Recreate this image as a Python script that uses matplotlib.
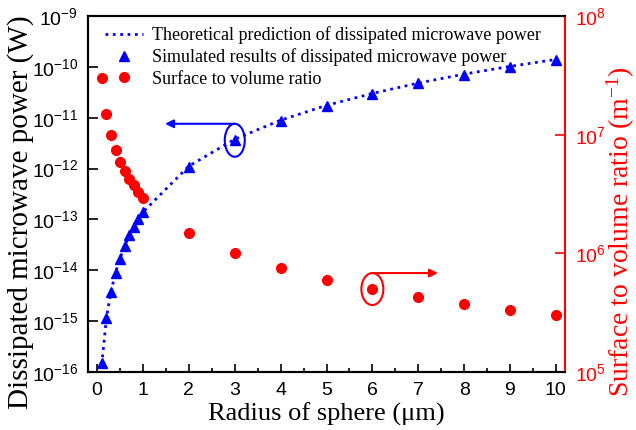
import matplotlib
matplotlib.use("Agg")
import matplotlib.pyplot as plt
from matplotlib.patches import Ellipse
from matplotlib.ticker import FuncFormatter, NullLocator
import numpy as np

radius = [0.1, 0.2, 0.3, 0.4, 0.5, 0.6, 0.7, 0.8, 0.9, 1.0, 2, 3, 4, 5, 6, 7, 8, 9, 10]
theory_power = [1.4e-16, 1.12e-15, 3.8e-15, 9.0e-15, 1.75e-14, 3.0e-14, 4.8e-14, 7.2e-14,
                1.02e-13, 1.4e-13, 1.12e-12, 3.78e-12, 8.96e-12, 1.75e-11, 3.0e-11,
                4.8e-11, 7.2e-11, 1.02e-10, 1.4e-10]
sim_power = [1.5e-16, 1.15e-15, 3.7e-15, 8.9e-15, 1.66e-14, 3.0e-14, 4.9e-14, 7.0e-14,
             1.0e-13, 1.4e-13, 1.07e-12, 3.6e-12, 8.5e-12, 1.7e-11, 2.9e-11,
             4.8e-11, 6.8e-11, 1.0e-10, 1.35e-10]
sv_ratio = [3.0e7, 1.49e7, 1.0e7, 7.4e6, 5.9e6, 4.9e6, 4.2e6, 3.76e6, 3.3e6, 2.9e6,
            1.48e6, 1.0e6, 7.5e5, 6.0e5, 5.0e5, 4.3e5, 3.75e5, 3.33e5, 3.0e5]
x_ticks = [0, 1, 2, 3, 4, 5, 6, 7, 8, 9, 10]
left_exponents = [-16, -15, -14, -13, -12, -11, -10, -9]
right_exponents = [5, 6, 7, 8]

BLUE = "#0000FF"
RED = "#FF0000"
serif = "Liberation Serif"
sans = "Liberation Sans"

plt.rcParams["mathtext.fontset"] = "custom"
plt.rcParams["mathtext.rm"] = serif
plt.rcParams["mathtext.sf"] = sans
plt.rcParams["mathtext.it"] = serif + ":italic"
plt.rcParams["mathtext.bf"] = serif + ":bold"

fig = plt.figure(figsize=(6.36, 4.30), dpi=100)
ax = fig.add_axes([88/636, 1 - 372/430, (565-88)/636, (372-16)/430])
ax2 = ax.twinx()

l1, = ax.plot(radius, theory_power, linestyle=":", color=BLUE, lw=2,
              label="Theoretical prediction of dissipated microwave power")
l2, = ax.plot(radius, sim_power, linestyle="none", marker="^", color=BLUE, ms=7,
              label="Simulated results of dissipated microwave power")
l3, = ax2.plot(radius, sv_ratio, linestyle="none", marker="o", color=RED, ms=7,
               label="Surface to volume ratio")

ax.set_yscale("log")
ax2.set_yscale("log")
ax.set_xlim(-0.2, 10.2)
ax.set_ylim(1e-16, 1e-9)
ax2.set_ylim(1e5, 1e8)
ax.set_xticks(x_ticks)
ax.set_xticks(np.arange(0.5, 10, 1.0), minor=True)
ax.set_yticks([10.0**k for k in left_exponents])
ax.yaxis.set_minor_locator(NullLocator())
ax2.set_yticks([10.0**k for k in right_exponents])
ax2.yaxis.set_minor_locator(NullLocator())

def pow_fmt(v, pos):
    k = int(round(np.log10(v)))
    return r"$\mathsf{10^{%d}}$" % k

ax.yaxis.set_major_formatter(FuncFormatter(pow_fmt))
ax2.yaxis.set_major_formatter(FuncFormatter(pow_fmt))

ax.tick_params(axis="x", which="major", direction="in", length=6, width=1.2,
               labelsize=14, pad=7)
ax.tick_params(axis="x", which="minor", direction="in", length=3, width=1.2)
ax.tick_params(axis="y", direction="in", length=7, width=1.2, labelsize=14, pad=7)
ax2.tick_params(axis="y", direction="in", length=7, width=1.2, labelsize=14,
                colors=RED, pad=7)
for lab in ax.get_xticklabels():
    lab.set_fontfamily(sans)

for s in ["left", "bottom", "top"]:
    ax.spines[s].set_linewidth(1.5)
    ax2.spines[s].set_linewidth(1.5)
ax2.spines["right"].set_color(RED)
ax2.spines["right"].set_linewidth(1.5)
ax.spines["right"].set_visible(False)

ax.set_xlabel("Radius of sphere (\u03bcm)", fontsize=19, family=serif, labelpad=3)
fig.text(21/636, 1 - 212/430, "Dissipated microwave power (W)", fontsize=21,
         family=serif, rotation=90, ha="center", va="center")
fig.text(621/636, 1 - 232/430, "Surface to volume ratio (m$^{-1}$)", fontsize=20,
         family=serif, rotation=90, ha="center", va="center", color=RED)

leg = ax.legend(handles=[l1, l2, l3], loc="upper left", frameon=False,
                prop={"family": serif, "size": 13}, numpoints=1,
                handlelength=2.1, handletextpad=0.5, borderaxespad=0.55,
                labelspacing=0.25, bbox_to_anchor=(0.0, 1.02))

fig.canvas.draw()

def ax_frac(a, x, y):
    return ax.transAxes.inverted().transform(a.transData.transform((x, y)))

# blue ellipse around simulated point at r=3 with arrow to the left
cx, cy = ax_frac(ax, 3, 3.6e-12)
ew, eh = 20/477, 33/356
ax.add_patch(Ellipse((cx, cy), ew, eh, transform=ax.transAxes, fill=False,
                     edgecolor=BLUE, lw=1.5, zorder=5))
ax1x, _ = ax_frac(ax, 1.48, 1e-12)
ax.annotate("", xy=(ax1x, cy + eh/2), xytext=(cx, cy + eh/2),
            xycoords="axes fraction", textcoords="axes fraction",
            arrowprops=dict(arrowstyle="-|>", color=BLUE, lw=1.5,
                            mutation_scale=12, shrinkA=0, shrinkB=0))

# red ellipse around ratio point at r=6 with arrow to the right
rx, ry = ax_frac(ax2, 6, 5.0e5)
ew2, eh2 = 22/477, 32/356
ax.add_patch(Ellipse((rx, ry), ew2, eh2, transform=ax.transAxes, fill=False,
                     edgecolor=RED, lw=1.5, zorder=5))
rx2, _ = ax_frac(ax2, 7.43, 5e5)
ax.annotate("", xy=(rx2, ry + eh2/2), xytext=(rx, ry + eh2/2),
            xycoords="axes fraction", textcoords="axes fraction",
            arrowprops=dict(arrowstyle="-|>", color=RED, lw=1.5,
                            mutation_scale=12, shrinkA=0, shrinkB=0))

fig.savefig("out.png", dpi=100)
